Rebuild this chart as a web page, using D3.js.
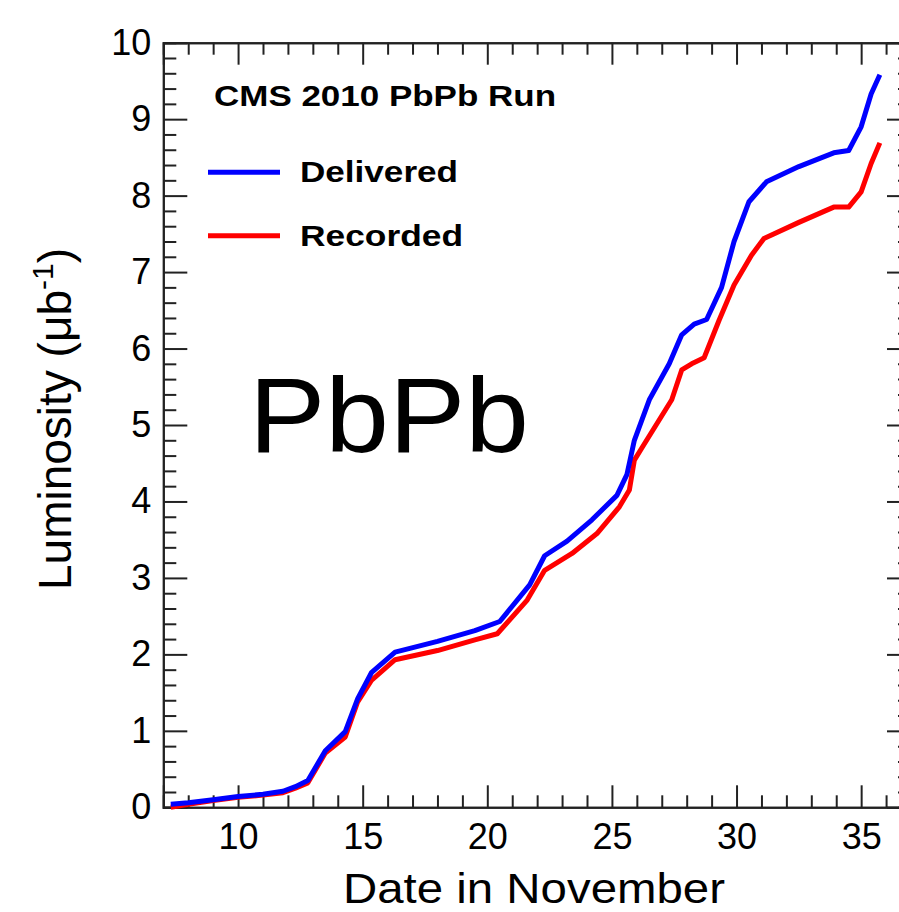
<!DOCTYPE html>
<html>
<head>
<meta charset="utf-8">
<script src="https://cdn.jsdelivr.net/npm/d3@7"></script>
<style>
  body { margin: 0; background: #fff; }
  svg text { font-family: "Liberation Sans", Arial, sans-serif; fill: #000; }
  .axis path, .axis line { stroke: #222; stroke-width: 2; }
</style>
</head>
<body>
<svg id="chart" width="899" height="912"></svg>
<script>
// days in November (beyond 30 = into December) and integrated luminosity
const deliveredDays = [7.3, 8, 9, 10, 11, 11.8, 12.3, 12.8, 13.5, 14.3, 14.8, 15.35, 16.3, 18, 19.5, 20.5,
  21.7, 22.3, 23.2, 24.2, 25.2, 25.6, 25.9, 26.5, 27.3, 27.8, 28.3, 28.8, 29.4, 29.9, 30.5, 31.2,
  32.5, 33.9, 34.5, 35.0, 35.4, 35.75];
const deliveredLumi = [0.04, 0.06, 0.1, 0.14, 0.17, 0.21, 0.27, 0.35, 0.74, 0.99, 1.42, 1.76, 2.03, 2.17, 2.31, 2.43,
  2.91, 3.29, 3.48, 3.76, 4.08, 4.35, 4.8, 5.33, 5.8, 6.18, 6.32, 6.38, 6.8, 7.4, 7.92, 8.18,
  8.38, 8.56, 8.59, 8.9, 9.33, 9.58];

const recordedDays = [7.3, 8, 9, 10, 11, 11.8, 12.3, 12.8, 13.5, 14.3, 14.8, 15.35, 16.3, 18, 19.5, 20.4,
  21.6, 22.3, 23.4, 24.4, 25.3, 25.7, 25.9, 26.2, 27.4, 27.8, 28.2, 28.7, 29.3, 29.9, 30.6, 31.1,
  32.5, 33.9, 34.5, 35.0, 35.4, 35.75];
const recordedLumi = [0.0, 0.04, 0.09, 0.13, 0.16, 0.19, 0.25, 0.32, 0.71, 0.92, 1.38, 1.66, 1.93, 2.05, 2.19, 2.27,
  2.71, 3.1, 3.32, 3.58, 3.93, 4.15, 4.54, 4.7, 5.33, 5.72, 5.8, 5.88, 6.37, 6.83, 7.22, 7.44,
  7.65, 7.85, 7.85, 8.05, 8.42, 8.69];

const xMajor = [10, 15, 20, 25, 30, 35];
const yMajor = [0, 1, 2, 3, 4, 5, 6, 7, 8, 9, 10];

const svg = d3.select('#chart');
const mLeft = 163.3, mRight = 911, mTop = 42.7, mBottom = 807.3;

const x = d3.scaleLinear().domain([7, 37]).range([mLeft, mRight]);
const y = d3.scaleLinear().domain([0, 10]).range([mBottom, mTop]);

const xMinor = d3.range(8, 37).filter(d => d % 5 !== 0);
const yMinor = d3.range(0, 50).map(d => d / 5).filter((d, i) => i % 5 !== 0);

// bottom axis
svg.append('g').attr('class', 'axis').attr('transform', `translate(0,${mBottom})`)
  .call(d3.axisBottom(x).tickValues(xMinor).tickSize(-12).tickFormat(''));
svg.append('g').attr('class', 'axis').attr('transform', `translate(0,${mBottom})`)
  .call(d3.axisBottom(x).tickValues(xMajor).tickSize(-22).tickPadding(16).tickFormat(d3.format('d')))
  .call(g => g.selectAll('text').style('font-size', '36px'));
// top axis
svg.append('g').attr('class', 'axis').attr('transform', `translate(0,${mTop})`)
  .call(d3.axisTop(x).tickValues(xMinor).tickSize(-12).tickFormat(''));
svg.append('g').attr('class', 'axis').attr('transform', `translate(0,${mTop})`)
  .call(d3.axisTop(x).tickValues(xMajor).tickSize(-22).tickFormat(''));
// left axis
svg.append('g').attr('class', 'axis').attr('transform', `translate(${mLeft},0)`)
  .call(d3.axisLeft(y).tickValues(yMinor).tickSize(-13).tickFormat(''));
svg.append('g').attr('class', 'axis').attr('transform', `translate(${mLeft},0)`)
  .call(d3.axisLeft(y).tickValues(yMajor).tickSize(-24).tickPadding(12).tickFormat(d3.format('d')))
  .call(g => g.selectAll('text').style('font-size', '36px'));
// right axis
svg.append('g').attr('class', 'axis').attr('transform', `translate(${mRight},0)`)
  .call(d3.axisRight(y).tickValues(yMinor).tickSize(-13).tickFormat(''));
svg.append('g').attr('class', 'axis').attr('transform', `translate(${mRight},0)`)
  .call(d3.axisRight(y).tickValues(yMajor).tickSize(-24).tickFormat(''));

svg.selectAll('.axis .domain').attr('fill', 'none');

const line = d3.line().x(d => x(d[0])).y(d => y(d[1]));

svg.append('path')
  .datum(d3.zip(recordedDays, recordedLumi))
  .attr('d', line)
  .attr('fill', 'none').attr('stroke', '#ff0000').attr('stroke-width', 5)
  .attr('stroke-linejoin', 'round');
svg.append('path')
  .datum(d3.zip(deliveredDays, deliveredLumi))
  .attr('d', line)
  .attr('fill', 'none').attr('stroke', '#0000ff').attr('stroke-width', 5)
  .attr('stroke-linejoin', 'round');

// legend
svg.append('text').attr('x', 214).attr('y', 106)
  .attr('textLength', 342).attr('lengthAdjust', 'spacingAndGlyphs')
  .style('font-size', '29px').style('font-weight', 'bold')
  .text('CMS 2010 PbPb Run');

const legend = [
  { name: 'Delivered', color: '#0000ff', y: 172.3, w: 158 },
  { name: 'Recorded', color: '#ff0000', y: 235.7, w: 163 }
];
legend.forEach(l => {
  svg.append('line').attr('x1', 208).attr('x2', 280).attr('y1', l.y).attr('y2', l.y)
    .attr('stroke', l.color).attr('stroke-width', 5);
  svg.append('text').attr('x', 300).attr('y', l.y + 10)
    .attr('textLength', l.w).attr('lengthAdjust', 'spacingAndGlyphs')
    .style('font-size', '30px').style('font-weight', 'bold')
    .text(l.name);
});

svg.append('text').attr('x', 249).attr('y', 452)
  .attr('textLength', 280).attr('lengthAdjust', 'spacingAndGlyphs')
  .style('font-size', '106px')
  .text('PbPb');

// axis titles
svg.append('text').attr('x', 534).attr('y', 903).attr('text-anchor', 'middle')
  .attr('textLength', 382).attr('lengthAdjust', 'spacingAndGlyphs')
  .style('font-size', '43px')
  .text('Date in November');

const yt = svg.append('text').attr('transform', 'translate(71,419) rotate(-90)')
  .attr('text-anchor', 'middle').style('font-size', '46px');
yt.append('tspan').text('Luminosity (\u03bcb');
yt.append('tspan').attr('dy', -18).style('font-size', '30px').text('-1');
yt.append('tspan').attr('dy', 18).text(')');
</script>
</body>
</html>
